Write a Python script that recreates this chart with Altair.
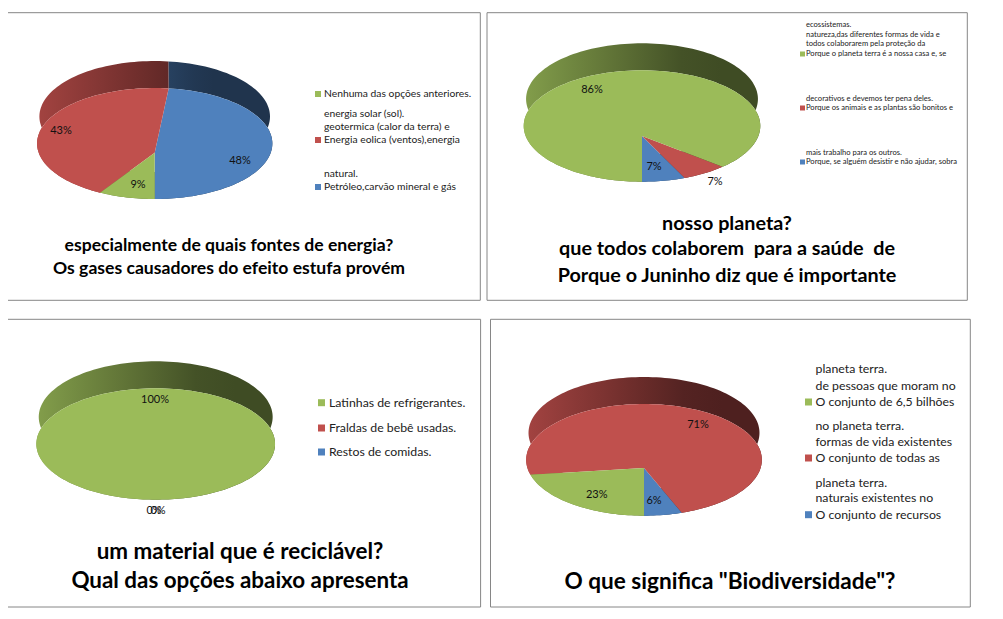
import math
import altair as alt
import pandas as pd

BLUE, RED, GREEN = "#4f81bd", "#c0504d", "#9bbb59"
COLORS = [BLUE, RED, GREEN]

# --- values ----------------------------------------------------------------
values_energy = [48.4, 42.6, 9.0]
values_juninho = [7.0, 7.0, 86.0]
values_material = [0.0, 0.0, 100.0]
values_biodiv = [6.0, 71.0, 23.0]
labels_energy = ["48%", "43%", "9%"]
labels_juninho = ["7%", "7%", "86%"]
labels_material = ["0%", "0%", "100%"]
labels_biodiv = ["6%", "71%", "23%"]

title_energy = ["especialmente de quais fontes de energia?", "Os gases causadores do efeito estufa provém"]
title_juninho = ["nosso planeta?", "que todos colaborem\u00a0 para a saúde\u00a0 de", "Porque o Juninho diz que é importante"]
title_material = ["um material que é reciclável?", "Qual das opções abaixo apresenta"]
title_biodiv = ['O que significa "Biodiversidade"?']

legend_energy = ["Nenhuma das opções anteriores.", "energia solar (sol).", "geotermica (calor da terra) e",
                 "Energia eolica (ventos),energia", "natural.", "Petróleo,carvão mineral e gás"]
legend_juninho = ["ecossistemas.", "natureza,das diferentes formas de vida e", "todos colaborarem pela proteção da",
                  "Porque o planeta terra é a nossa casa e, se", "decorativos e devemos ter pena deles.",
                  "Porque os animais e as plantas são bonitos e", "mais trabalho para os outros.",
                  "Porque, se alguém desistir e não ajudar, sobra"]
legend_material = ["Latinhas de refrigerantes.", "Fraldas de bebê usadas.", "Restos de comidas."]
legend_biodiv = ["planeta terra.", "de pessoas que moram no", "O conjunto de 6,5 bilhões", "no planeta terra.",
                 "formas de vida existentes", "O conjunto de todas as", "planeta terra.",
                 "naturais existentes no", "O conjunto de recursos"]

# --- layout ------------------------------------------------------------------
XMIN, XMAX, YMIN, YMAX = 8, 983, 8, 608
frames = [(-5, 12.7, 480.3, 300.3), (487, 12.7, 967.3, 300.3),
          (-5, 319.3, 480.6, 607), (490.5, 319.3, 970.3, 607)]

panels = [
    dict(v=values_energy, lab=labels_energy, x0=36.7, x1=272, top=88, bot=199, vx=154.7, vy=152.7,
         labxy=[(240, 161), (61, 131), (138, 185)],
         title=title_energy, ty=[246, 269], tx=229, tfs=17.6,
         leg=legend_energy, ly=[94, 114, 127, 140, 174, 187], lx=324, sq=(315, 321),
         sqy=[(94, GREEN), (140, RED), (187, BLUE)], fs=10.3),
    dict(v=values_juninho, lab=labels_juninho, x0=523.7, x1=760.3, top=70.3, bot=181.7, vx=642, vy=136,
         labxy=[(654, 167), (715, 182), (592, 90)],
         title=title_juninho, ty=[224, 249, 276], tx=727, tfs=19.8,
         leg=legend_juninho, ly=[24.5, 35, 44, 54, 99, 108, 153, 162], lx=806, sq=(800, 805),
         sqy=[(54, GREEN), (108, RED), (162, BLUE)], fs=7.6),
    dict(v=values_material, lab=labels_material, x0=36.3, x1=275, top=388.3, bot=499.7, vx=155.7, vy=454,
         labxy=[(154, 511), (158, 511), (155, 400)],
         title=title_material, ty=[552, 581], tx=240, tfs=22.4,
         leg=legend_material, ly=[402.7, 428, 452], lx=329, sq=(318, 325),
         sqy=[(402.7, GREEN), (428, RED), (452, BLUE)], fs=12.3),
    dict(v=values_biodiv, lab=labels_biodiv, x0=526, x1=761.7, top=404, bot=515.7, vx=644, vy=468,
         labxy=[(654, 500.7), (698, 425), (596.7, 495)],
         title=title_biodiv, ty=[581.7], tx=730, tfs=22.6,
         leg=legend_biodiv, ly=[369, 385.7, 402, 425.5, 442, 458, 482.5, 498, 514.7], lx=815.5, sq=(805, 812),
         sqy=[(402, GREEN), (458, RED), (514.7, BLUE)], fs=12.3),
]
WALL = 27


def shade(color, f):
    r, g, b = (int(color[i:i + 2], 16) for i in (1, 3, 5))
    return "#%02x%02x%02x" % (int(r * f), int(g * f), int(b * f))


def brightness(t):
    t = max(0.0, min(1.0, t))
    return 0.85 + (0.41 - 0.85) * t / 0.72 if t < 0.72 else 0.41


def projector(p):
    up, low = p["vy"] - p["top"], p["bot"] - p["vy"]
    k = (up - low) / (up + low)
    A = low * (1 + k)
    B = (p["x1"] - p["x0"]) / 2 * math.sqrt(1 - k * k)

    def proj(theta, sx=1.0, dy=0.0):
        u, v = math.sin(theta), math.cos(theta)
        w = 1 + k * v
        return (p["vx"] + sx * B * u / w, p["vy"] + A * v / w + dy)

    return proj


X = alt.X("x:Q", scale=alt.Scale(domain=[XMIN, XMAX]), axis=None)
Y = alt.Y("y:Q", scale=alt.Scale(domain=[YMIN, YMAX], reverse=True), axis=None)


def polygon(points, fill):
    df = pd.DataFrame({"x": [a for a, _ in points], "y": [b for _, b in points], "i": range(len(points))})
    return alt.Chart(df).mark_line(fill=fill, strokeWidth=0, stroke="transparent", clip=False).encode(
        x=X, y=Y, order="i:Q")


layers = []
# frames
fdf = pd.DataFrame(frames, columns=["x", "y", "x2", "y2"])
layers.append(alt.Chart(fdf).mark_rect(fill="white", stroke="#868686", strokeWidth=1).encode(
    x=X, y=Y, x2="x2:Q", y2="y2:Q"))

for p in panels:
    proj = projector(p)
    total = sum(p["v"])
    # slice angles: start at the bottom and run counter-clockwise on screen
    spans, acc = [], 0.0
    for val in p["v"]:
        spans.append((acc / total * 2 * math.pi, (acc + val) / total * 2 * math.pi))
        acc += val
    width = p["x1"] - p["x0"]
    # side wall
    for (a, b), col, val in zip(spans, COLORS, p["v"]):
        if val <= 0:
            continue
        n = max(3, int(val * 2))
        th = [a + (b - a) * i / n for i in range(n + 1)]
        outer = [proj(t) for t in th]
        back = [proj(t, 0.98, -WALL) for t in reversed(th)]
        pts = outer + back
        xa, xb = min(q[0] for q in pts), max(q[0] for q in pts)
        stops = []
        for j in range(7):
            o = j / 6
            f = brightness((xa + (xb - xa) * o - p["x0"]) / width)
            stops.append(alt.GradientStop(offset=o, color=shade(col, f)))
        layers.append(polygon(pts, alt.LinearGradient(gradient="linear", stops=stops, x1=0, x2=1, y1=0, y2=0)))
    # top face
    for (a, b), col, val in zip(spans, COLORS, p["v"]):
        if val <= 0:
            continue
        n = max(3, int(val * 2))
        pts = [proj(a + (b - a) * i / n) for i in range(n + 1)]
        if val < total:
            pts.append((p["vx"], p["vy"]))
        layers.append(polygon(pts, col))
    # percentage labels
    ldf = pd.DataFrame({"x": [q[0] for q in p["labxy"]], "y": [q[1] for q in p["labxy"]], "t": p["lab"]})
    layers.append(alt.Chart(ldf).mark_text(font="Lato", fontSize=11, color="#111111", baseline="middle").encode(
        x=X, y=Y, text="t:N"))
    # title lines
    tdf = pd.DataFrame({"x": [p["tx"]] * len(p["title"]), "y": p["ty"], "t": p["title"]})
    layers.append(alt.Chart(tdf).mark_text(font="Lato", fontSize=p["tfs"], fontWeight="bold", color="black",
                                           baseline="middle").encode(x=X, y=Y, text="t:N"))
    # legend text
    gdf = pd.DataFrame({"x": [p["lx"]] * len(p["leg"]), "y": p["ly"], "t": p["leg"]})
    layers.append(alt.Chart(gdf).mark_text(font="Lato", fontSize=p["fs"], color="#222222", align="left",
                                           baseline="middle").encode(x=X, y=Y, text="t:N"))
    # legend swatches
    sdf = pd.DataFrame({"x": [p["sq"][0]] * 3, "x2": [p["sq"][1]] * 3,
                        "y": [q[0] - (p["sq"][1] - p["sq"][0]) / 2 for q in p["sqy"]],
                        "y2": [q[0] + (p["sq"][1] - p["sq"][0]) / 2 for q in p["sqy"]],
                        "c": [q[1] for q in p["sqy"]]})
    layers.append(alt.Chart(sdf).mark_rect().encode(x=X, y=Y, x2="x2:Q", y2="y2:Q",
                                                    fill=alt.Fill("c:N", scale=None)))

chart = alt.layer(*layers).properties(
    width=XMAX - XMIN, height=YMAX - YMIN, padding=0, background="white",
    autosize=alt.AutoSizeParams(type="none")
).configure_view(stroke=None)

chart.save("out.html", embed_options={"renderer": "svg", "actions": False})
